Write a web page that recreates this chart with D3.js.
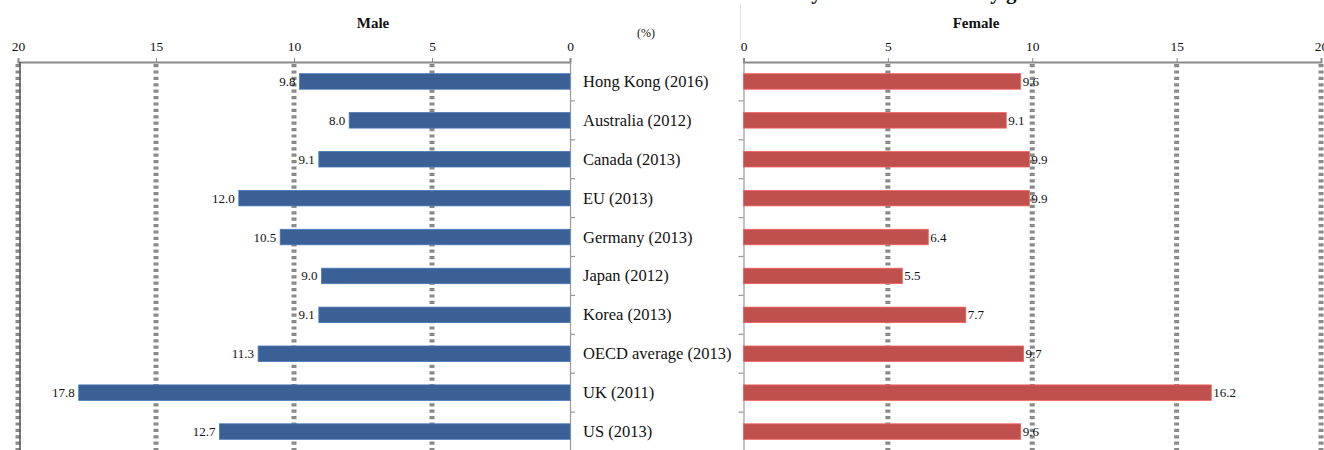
<!DOCTYPE html>
<html>
<head>
<meta charset="utf-8">
<script src="https://cdn.jsdelivr.net/npm/d3@7"></script>
<style>
  html, body { margin: 0; padding: 0; background: #fff; }
  svg { display: block; font-family: "Liberation Serif", "Times New Roman", serif; }
</style>
</head>
<body>
<svg id="chart" width="1324" height="450"></svg>
<script>
// Economies shown, top to bottom
const categories = [
  "Hong Kong (2016)", "Australia (2012)", "Canada (2013)", "EU (2013)",
  "Germany (2013)", "Japan (2012)", "Korea (2013)", "OECD average (2013)",
  "UK (2011)", "US (2013)"
];
// Rates (%) by gender
const maleValues   = [9.8, 8.0, 9.1, 12.0, 10.5, 9.0, 9.1, 11.3, 17.8, 12.7];
const femaleValues = [9.6, 9.1, 9.9, 9.9, 6.4, 5.5, 7.7, 9.7, 16.2, 9.6];
// Axis ticks shared by both panels
const tickValues = [0, 5, 10, 15, 20];

const svg = d3.select("#chart");
const axisY = 62;
const gridColor = "#8a8a8a";
const maleColor = "#3a6095";
const femaleColor = "#c0504d";

const xMale = d3.scaleLinear().domain([0, 20]).range([570, 18]);
const xFemale = d3.scaleLinear().domain([0, 20]).range([743.5, 1321]);
const y = d3.scaleBand().domain(categories).range([axisY, axisY + 389]).padding(0);
const barH = 15.5;

// Title (runs off the top edge)
svg.append("text")
  .attr("x", 733).attr("y", -1)
  .attr("font-size", 21).attr("font-weight", "bold").attr("fill", "#111")
  .text("Summary rate of all adults by gender");

// faint divider between the panels
svg.append("line")
  .attr("x1", 740.5).attr("x2", 740.5).attr("y1", 4).attr("y2", 40)
  .attr("stroke", "#e4e4e4").attr("stroke-width", 1);

function panel(x, values, color, side) {
  const g = svg.append("g");

  // dashed gridlines
  g.selectAll("line.grid")
    .data(tickValues.filter(d => d > 0))
    .join("line")
    .attr("class", "grid")
    .attr("x1", d => x(d)).attr("x2", d => x(d))
    .attr("y1", axisY + 2).attr("y2", 452)
    .attr("stroke", gridColor).attr("stroke-width", 5)
    .attr("stroke-dasharray", "3.2 3.2");

  // top value axis
  const ax = g.append("g")
    .attr("transform", `translate(0,${axisY})`)
    .call(d3.axisTop(x).tickValues(tickValues).tickSize(4).tickPadding(7).tickFormat(d3.format("d")));
  ax.select(".domain").attr("stroke", "#8a8a8a").attr("stroke-width", 2);
  ax.selectAll(".tick line").attr("stroke", "#8a8a8a");
  ax.selectAll(".tick text")
    .attr("font-family", "Liberation Serif, serif")
    .attr("font-size", 13.5).attr("fill", "#111");

  // category axis at zero
  const catAxis = side === "left" ? d3.axisRight(y) : d3.axisLeft(y);
  const cg = g.append("g")
    .attr("transform", `translate(${x(0)},0)`)
    .call(catAxis.tickValues([]).tickSizeOuter(0));
  cg.select(".domain").attr("stroke", "#9a9a9a").attr("stroke-width", 1.2);
  // band boundary ticks
  g.selectAll("line.bt")
    .data(categories.slice(1))
    .join("line")
    .attr("class", "bt")
    .attr("x1", x(0))
    .attr("x2", x(0) + (side === "left" ? 5 : -5))
    .attr("y1", d => y(d)).attr("y2", d => y(d))
    .attr("stroke", "#9a9a9a").attr("stroke-width", 1.2);

  // bars
  g.selectAll("rect.bar")
    .data(values)
    .join("rect")
    .attr("class", "bar")
    .attr("x", d => Math.min(x(0), x(d)))
    .attr("width", d => Math.abs(x(d) - x(0)))
    .attr("y", (d, i) => y(categories[i]) + y.bandwidth() / 2 - barH / 2)
    .attr("height", barH)
    .attr("fill", color)
    .attr("stroke", d3.color(color).brighter(0.6))
    .attr("stroke-width", 0.8);

  // value labels
  g.selectAll("text.val")
    .data(values)
    .join("text")
    .attr("class", "val")
    .attr("x", d => side === "left" ? x(d) - 4 : x(d) + 2)
    .attr("y", (d, i) => y(categories[i]) + y.bandwidth() / 2 + 4.5)
    .attr("text-anchor", side === "left" ? "end" : "start")
    .attr("font-size", 13).attr("fill", "#111")
    .text(d => d.toFixed(1));
}

panel(xMale, maleValues, maleColor, "left");
panel(xFemale, femaleValues, femaleColor, "right");

// solid border at the male 20 gridline
svg.append("line")
  .attr("x1", xMale(20) + 2).attr("x2", xMale(20) + 2)
  .attr("y1", axisY).attr("y2", 452)
  .attr("stroke", "#555").attr("stroke-width", 1.5);

// category labels
svg.append("g").selectAll("text")
  .data(categories)
  .join("text")
  .attr("x", 583)
  .attr("y", d => y(d) + y.bandwidth() / 2 + 5.5)
  .attr("font-size", 16.5).attr("fill", "#111")
  .text(d => d);

// panel titles and unit
svg.append("text").attr("x", 373).attr("y", 28)
  .attr("text-anchor", "middle").attr("font-size", 15).attr("font-weight", "bold").attr("fill", "#111")
  .text("Male");
svg.append("text").attr("x", 976).attr("y", 28)
  .attr("text-anchor", "middle").attr("font-size", 15).attr("font-weight", "bold").attr("fill", "#111")
  .text("Female");
svg.append("text").attr("x", 646).attr("y", 37)
  .attr("text-anchor", "middle").attr("font-size", 12).attr("fill", "#111")
  .text("(%)");
</script>
</body>
</html>
